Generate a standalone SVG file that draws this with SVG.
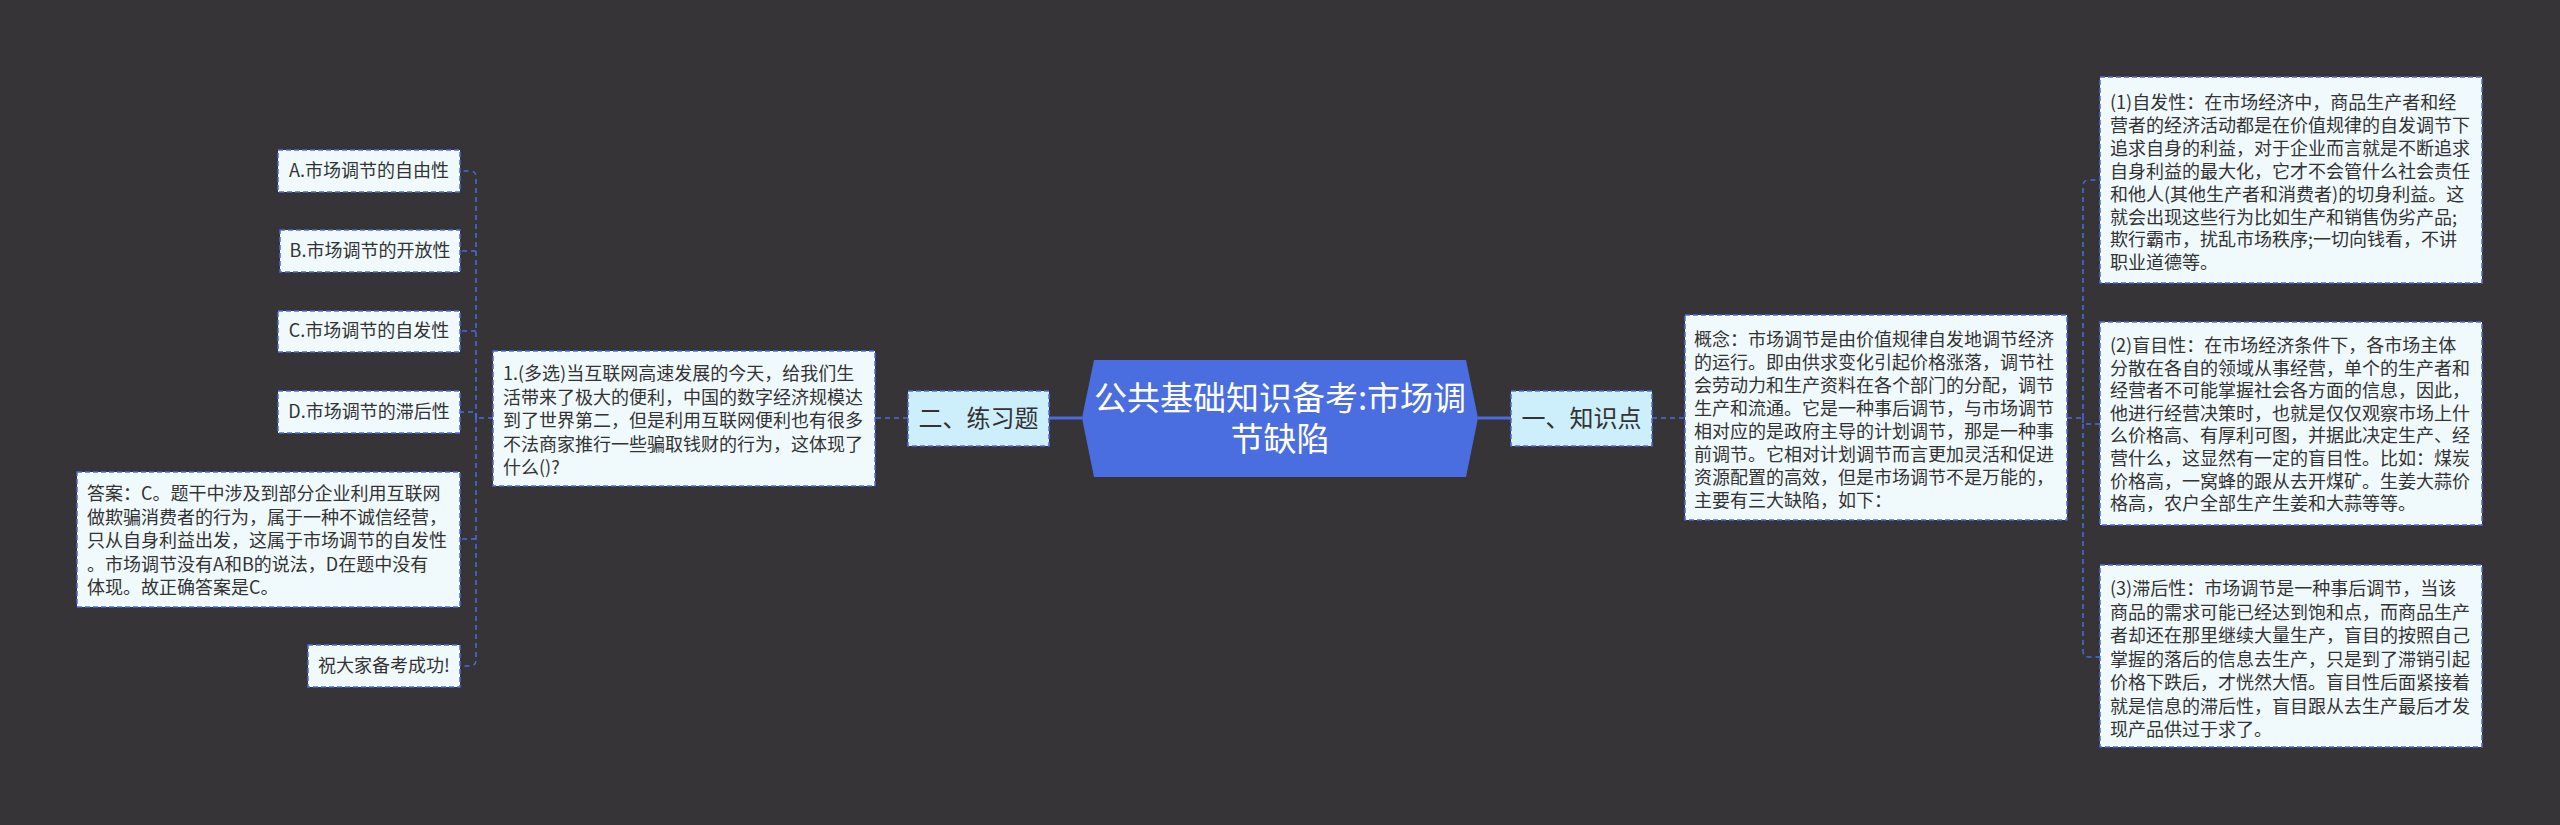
<svg xmlns="http://www.w3.org/2000/svg" width="2560" height="825" viewBox="0 0 2560 825">
<style>
.bg{fill:#363436}
.box{fill:#f0fafd;stroke:#4a6bdf;stroke-width:1.5;stroke-dasharray:5 3}
.l1{fill:#cdeefb;stroke:#4a6bdf;stroke-width:1.5;stroke-dasharray:5 3}
.t{font-family:"Noto Sans CJK SC","Noto Sans",sans-serif;font-size:18px;fill:#333333}
.t1{font-family:"Noto Sans CJK SC","Noto Sans",sans-serif;font-size:24px;fill:#333333;text-anchor:middle}
.tc{font-family:"Noto Sans CJK SC","Noto Sans",sans-serif;font-size:33px;fill:#ffffff;text-anchor:middle}
.ln{fill:none;stroke:#4a6bdf;stroke-width:1.5;stroke-dasharray:5 4}
.sl{fill:none;stroke:#4a6bdf;stroke-width:3}
</style>
<rect class="bg" x="0" y="0" width="2560" height="825"/>
<g id="connectors">
<path class="sl" d="M1478,418 H1511"/>
<path class="sl" d="M1082,418 H1049"/>
<path class="ln" d="M1652,418 H1685"/>
<path class="ln" d="M2067,418 H2083"/>
<path class="ln" d="M2083,418 V186 Q2083,180 2089,180 H2100"/>
<path class="ln" d="M2083,418 V424 H2100"/>
<path class="ln" d="M2083,424 V651 Q2083,657 2089,657 H2100"/>
<path class="ln" d="M908,418 H875"/>
<path class="ln" d="M493,418 H476"/>
<path class="ln" d="M476,418 V177 Q476,171 470,171 H460"/>
<path class="ln" d="M476,251 H460"/>
<path class="ln" d="M476,331 H460"/>
<path class="ln" d="M476,418 V412 H460"/>
<path class="ln" d="M476,539 H460"/>
<path class="ln" d="M476,418 V660 Q476,666 470,666 H460"/>
</g>
<g id="central">
<polygon points="1094,360 1466,360 1478,418 1466,477 1094,477 1082,418" fill="#4a6ee0"/>
<text class="tc" x="1280" y="410">公共基础知识备考:市场调</text>
<text class="tc" x="1280" y="451">节缺陷</text>
</g>
<g id="n-knowledge">
<rect class="l1" x="1511" y="391" width="141" height="55"/>
<text class="t1" x="1581.5" y="427">一、知识点</text>
</g>
<g id="n-concept">
<rect class="box" x="1685" y="315" width="382" height="205"/>
<text class="t">
<tspan x="1694" y="346">概念：市场调节是由价值规律自发地调节经济</tspan>
<tspan x="1694" dy="23">的运行。即由供求变化引起价格涨落，调节社</tspan>
<tspan x="1694" dy="23">会劳动力和生产资料在各个部门的分配，调节</tspan>
<tspan x="1694" dy="23">生产和流通。它是一种事后调节，与市场调节</tspan>
<tspan x="1694" dy="23">相对应的是政府主导的计划调节，那是一种事</tspan>
<tspan x="1694" dy="23">前调节。它相对计划调节而言更加灵活和促进</tspan>
<tspan x="1694" dy="23">资源配置的高效，但是市场调节不是万能的，</tspan>
<tspan x="1694" dy="23">主要有三大缺陷，如下：</tspan>
</text>
</g>
<g id="n-spontaneous">
<rect class="box" x="2100" y="77" width="382" height="206"/>
<text class="t">
<tspan x="2110" y="109">(1)自发性：在市场经济中，商品生产者和经</tspan>
<tspan x="2110" dy="22.9">营者的经济活动都是在价值规律的自发调节下</tspan>
<tspan x="2110" dy="22.9">追求自身的利益，对于企业而言就是不断追求</tspan>
<tspan x="2110" dy="22.9">自身利益的最大化，它才不会管什么社会责任</tspan>
<tspan x="2110" dy="22.9">和他人(其他生产者和消费者)的切身利益。这</tspan>
<tspan x="2110" dy="22.9">就会出现这些行为比如生产和销售伪劣产品;</tspan>
<tspan x="2110" dy="22.9">欺行霸市，扰乱市场秩序;一切向钱看，不讲</tspan>
<tspan x="2110" dy="22.9">职业道德等。</tspan>
</text>
</g>
<g id="n-blind">
<rect class="box" x="2100" y="322" width="382" height="203"/>
<text class="t">
<tspan x="2110" y="352">(2)盲目性：在市场经济条件下，各市场主体</tspan>
<tspan x="2110" dy="22.6">分散在各自的领域从事经营，单个的生产者和</tspan>
<tspan x="2110" dy="22.6">经营者不可能掌握社会各方面的信息，因此，</tspan>
<tspan x="2110" dy="22.6">他进行经营决策时，也就是仅仅观察市场上什</tspan>
<tspan x="2110" dy="22.6">么价格高、有厚利可图，并据此决定生产、经</tspan>
<tspan x="2110" dy="22.6">营什么，这显然有一定的盲目性。比如：煤炭</tspan>
<tspan x="2110" dy="22.6">价格高，一窝蜂的跟从去开煤矿。生姜大蒜价</tspan>
<tspan x="2110" dy="22.6">格高，农户全部生产生姜和大蒜等等。</tspan>
</text>
</g>
<g id="n-lag">
<rect class="box" x="2100" y="565" width="382" height="182"/>
<text class="t">
<tspan x="2110" y="595">(3)滞后性：市场调节是一种事后调节，当该</tspan>
<tspan x="2110" dy="23.5">商品的需求可能已经达到饱和点，而商品生产</tspan>
<tspan x="2110" dy="23.5">者却还在那里继续大量生产，盲目的按照自己</tspan>
<tspan x="2110" dy="23.5">掌握的落后的信息去生产，只是到了滞销引起</tspan>
<tspan x="2110" dy="23.5">价格下跌后，才恍然大悟。盲目性后面紧接着</tspan>
<tspan x="2110" dy="23.5">就是信息的滞后性，盲目跟从去生产最后才发</tspan>
<tspan x="2110" dy="23.5">现产品供过于求了。</tspan>
</text>
</g>
<g id="n-exercise">
<rect class="l1" x="908" y="391" width="141" height="55"/>
<text class="t1" x="978.5" y="427">二、练习题</text>
</g>
<g id="n-question">
<rect class="box" x="493" y="351" width="382" height="135"/>
<text class="t">
<tspan x="503" y="380">1.(多选)当互联网高速发展的今天，给我们生</tspan>
<tspan x="503" dy="23.5">活带来了极大的便利，中国的数字经济规模达</tspan>
<tspan x="503" dy="23.5">到了世界第二，但是利用互联网便利也有很多</tspan>
<tspan x="503" dy="23.5">不法商家推行一些骗取钱财的行为，这体现了</tspan>
<tspan x="503" dy="23.5">什么()?</tspan>
</text>
</g>
<g id="n-a">
<rect class="box" x="278" y="150" width="182" height="42"/>
<text class="t" x="369" y="177" text-anchor="middle">A.市场调节的自由性</text>
</g>
<g id="n-b">
<rect class="box" x="280" y="230" width="180" height="42"/>
<text class="t" x="370" y="257" text-anchor="middle">B.市场调节的开放性</text>
</g>
<g id="n-c">
<rect class="box" x="278" y="311" width="182" height="41"/>
<text class="t" x="369" y="337" text-anchor="middle">C.市场调节的自发性</text>
</g>
<g id="n-d">
<rect class="box" x="278" y="391" width="182" height="42"/>
<text class="t" x="369" y="418" text-anchor="middle">D.市场调节的滞后性</text>
</g>
<g id="n-answer">
<rect class="box" x="77" y="472" width="383" height="135"/>
<text class="t">
<tspan x="87" y="500">答案：C。题干中涉及到部分企业利用互联网</tspan>
<tspan x="87" dy="23.5">做欺骗消费者的行为，属于一种不诚信经营，</tspan>
<tspan x="87" dy="23.5">只从自身利益出发，这属于市场调节的自发性</tspan>
<tspan x="87" dy="23.5">。市场调节没有A和B的说法，D在题中没有</tspan>
<tspan x="87" dy="23.5">体现。故正确答案是C。</tspan>
</text>
</g>
<g id="n-wish">
<rect class="box" x="308" y="645" width="152" height="42"/>
<text class="t" x="384" y="672" text-anchor="middle">祝大家备考成功!</text>
</g>
</svg>
